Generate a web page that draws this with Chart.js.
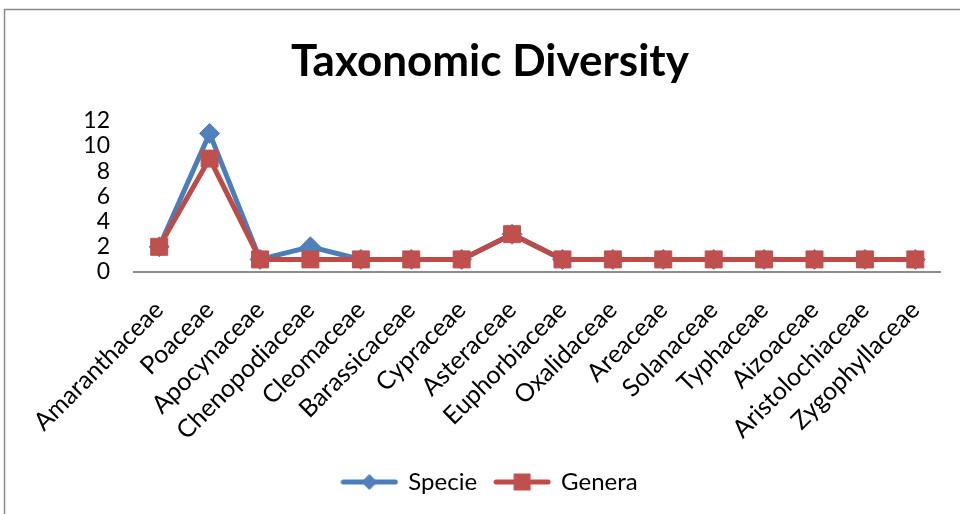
<!DOCTYPE html>
<html>
<head>
<meta charset="utf-8">
<title>Taxonomic Diversity</title>
<script src="https://cdn.jsdelivr.net/npm/chart.js@4/dist/chart.umd.min.js"></script>
<style>
  html, body { margin: 0; padding: 0; background: #ffffff; }
  #wrap { position: relative; width: 960px; height: 514px; overflow: hidden; }
  canvas { display: block; }
</style>
</head>
<body>
<div id="wrap"><canvas id="chart" width="960" height="514"></canvas></div>
<script>
// Plant families and counts per family
const families = [
  'Amaranthaceae', 'Poaceae', 'Apocynaceae', 'Chenopodiaceae', 'Cleomaceae',
  'Barassicaceae', 'Cypraceae', 'Asteraceae', 'Euphorbiaceae', 'Oxalidaceae',
  'Areaceae', 'Solanaceae', 'Typhaceae', 'Aizoaceae', 'Aristolochiaceae', 'Zygophyllaceae'
];
const speciesCounts = [2, 11, 1, 2, 1, 1, 1, 3, 1, 1, 1, 1, 1, 1, 1, 1];
const generaCounts  = [2, 9, 1, 1, 1, 1, 1, 3, 1, 1, 1, 1, 1, 1, 1, 1];
const yTicks = [0, 2, 4, 6, 8, 10, 12];

const FONT = 'Lato, "Open Sans", "DejaVu Sans", sans-serif';
const BLUE_LINE = '#4A7EBB', BLUE_MARK = '#4F81BD';
const RED_LINE = '#BE4B48', RED_MARK = '#C0504D';

// Legend symbols: a short line with the series marker in the middle
function legendSymbol(lineColor, markColor, shape) {
  const c = document.createElement('canvas');
  c.width = 58; c.height = 20;
  const g = c.getContext('2d');
  g.strokeStyle = lineColor; g.lineWidth = 5; g.lineCap = 'round';
  g.beginPath(); g.moveTo(3, 10); g.lineTo(55, 10); g.stroke();
  g.fillStyle = markColor;
  g.beginPath();
  if (shape === 'diamond') {
    g.moveTo(29, 2); g.lineTo(37, 10); g.lineTo(29, 18); g.lineTo(21, 10);
  } else {
    g.rect(20.5, 1.5, 17, 17);
  }
  g.closePath(); g.fill();
  return c;
}
const specieSymbol = legendSymbol(BLUE_LINE, BLUE_MARK, 'diamond');
const generaSymbol = legendSymbol(RED_LINE, RED_MARK, 'square');

// Thin gray frame around the chart
const framePlugin = {
  id: 'frame',
  beforeDraw(chart) {
    const ctx = chart.ctx;
    ctx.save();
    ctx.strokeStyle = '#8a8a8a';
    ctx.lineWidth = 1.5;
    ctx.strokeRect(4.5, 9.5, 1200, 1200);
    ctx.restore();
  }
};

new Chart(document.getElementById('chart'), {
  type: 'line',
  data: {
    labels: families,
    datasets: [
      {
        label: 'Specie',
        data: speciesCounts,
        borderColor: BLUE_LINE,
        backgroundColor: BLUE_MARK,
        borderWidth: 5,
        pointStyle: 'rectRot',
        pointRadius: 10,
        pointBorderWidth: 1,
        pointBorderColor: BLUE_MARK,
        pointBackgroundColor: BLUE_MARK,
        tension: 0,
        order: 2
      },
      {
        label: 'Genera',
        data: generaCounts,
        borderColor: RED_LINE,
        backgroundColor: RED_MARK,
        borderWidth: 5,
        pointStyle: 'rect',
        pointRadius: 12,
        pointBorderWidth: 1,
        pointBorderColor: RED_MARK,
        pointBackgroundColor: RED_MARK,
        tension: 0,
        order: 1
      }
    ]
  },
  options: {
    responsive: false,
    animation: false,
    devicePixelRatio: 1,
    layout: { padding: { left: 35, right: 15, top: 0, bottom: 10 } },
    plugins: {
      title: {
        display: true,
        text: 'Taxonomic Diversity',
        color: '#000000',
        font: { family: FONT, size: 44, weight: 'bold' },
        padding: { top: 35, bottom: 33 },
        lineHeight: 1.2
      },
      legend: {
        position: 'bottom',
        labels: {
          color: '#000000',
          font: { family: FONT, size: 24 },
          usePointStyle: true,
          pointStyleWidth: 54,
          padding: 18,
          sort: (a, b) => a.datasetIndex - b.datasetIndex,
          generateLabels(chart) {
            return chart.data.datasets.map((ds, i) => ({
              text: ds.label,
              datasetIndex: i,
              pointStyle: i === 0 ? specieSymbol : generaSymbol,
              fillStyle: ds.backgroundColor,
              strokeStyle: ds.borderColor,
              lineWidth: 0,
              hidden: false,
              fontColor: '#000000'
            }));
          }
        }
      },
      tooltip: { enabled: false }
    },
    scales: {
      x: {
        offset: true,
        grid: { display: false, drawTicks: false },
        border: { display: true, color: '#8c8c8c', width: 2 },
        ticks: {
          autoSkip: false,
          maxRotation: 45,
          minRotation: 45,
          padding: 23,
          color: '#000000',
          font: { family: FONT, size: 25 }
        },
        afterFit(scale) { scale.height = 180; }
      },
      y: {
        min: 0,
        max: 12,
        grid: { display: false, drawTicks: false },
        border: { display: false },
        afterBuildTicks(scale) { scale.ticks = yTicks.map(v => ({ value: v })); },
        ticks: {
          autoSkip: false,
          padding: 24,
          color: '#000000',
          font: { family: FONT, size: 23 }
        },
        afterFit(scale) { scale.width = 99; }
      }
    }
  },
  plugins: [framePlugin]
});
</script>
</body>
</html>
